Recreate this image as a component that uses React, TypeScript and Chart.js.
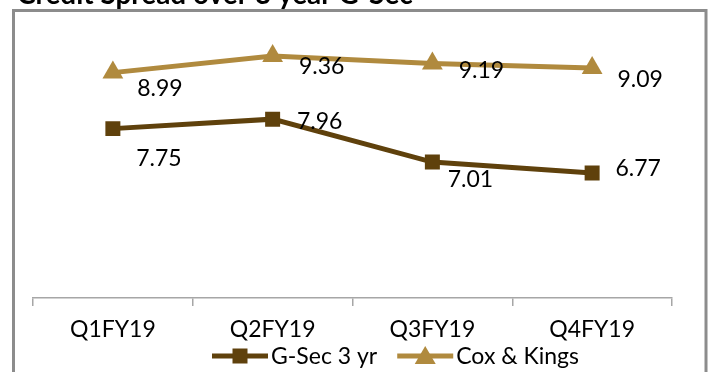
import React, { useEffect, useRef } from "react";
import { Chart, registerables } from "chart.js";

Chart.register(...registerables);

const categories = ["Q1FY19", "Q2FY19", "Q3FY19", "Q4FY19"];
const gsec3yr = [7.75, 7.96, 7.01, 6.77];
const coxKings = [8.99, 9.36, 9.19, 9.09];
const seriesNames = ["G-Sec 3 yr", "Cox & Kings"];
const titleText = "Credit Spread over 3 year G-Sec";

const GSEC_COLOR = "#5f410c";
const COX_COLOR = "#b08a3e";
const FONT = "Lato, 'DejaVu Sans', sans-serif";

// label placement offsets (px) relative to each point, per dataset
const labelOffsets = [
  [[46, 30], [47, 2], [38, 18], [46, -4]],
  [[47, 16], [49, 11], [49, 7], [48, 11]],
];

const overlayPlugin = {
  id: "overlay",
  afterDatasetsDraw(chart: any) {
    const ctx = chart.ctx;
    ctx.save();
    ctx.font = `23px ${FONT}`;
    ctx.fillStyle = "#000";
    ctx.textAlign = "center";
    ctx.textBaseline = "middle";
    chart.data.datasets.forEach((ds: any, di: number) => {
      const meta = chart.getDatasetMeta(di);
      meta.data.forEach((pt: any, i: number) => {
        const off = labelOffsets[di][i];
        ctx.fillText(ds.data[i].toFixed(2), pt.x + off[0], pt.y + off[1]);
      });
    });
    ctx.restore();
  },
  afterDraw(chart: any) {
    const ctx = chart.ctx;
    ctx.save();
    // border
    ctx.strokeStyle = "#8c8c8c";
    ctx.lineWidth = 3;
    ctx.strokeRect(13.5, 10.5, 692.5, 420);
    // title (cut off at top)
    ctx.fillStyle = "#000";
    ctx.font = `bold 23px ${FONT}`;
    const w = ctx.measureText(titleText).width;
    const size = (23 * 396) / w;
    ctx.font = `bold ${size}px ${FONT}`;
    ctx.textAlign = "left";
    ctx.textBaseline = "alphabetic";
    ctx.fillText(titleText, 17, 4);
    // legend
    ctx.font = `23px ${FONT}`;
    ctx.textBaseline = "middle";
    const ly = 356;
    let x = 212;
    const colors = [GSEC_COLOR, COX_COLOR];
    seriesNames.forEach((name, i) => {
      ctx.strokeStyle = colors[i];
      ctx.fillStyle = colors[i];
      ctx.lineWidth = 5;
      ctx.beginPath();
      ctx.moveTo(x, ly);
      ctx.lineTo(x + 56, ly);
      ctx.stroke();
      const cx = x + 28;
      ctx.beginPath();
      if (i === 0) {
        ctx.rect(cx - 7.5, ly - 7.5, 15, 15);
      } else {
        ctx.moveTo(cx, ly - 10);
        ctx.lineTo(cx + 10.5, ly + 8);
        ctx.lineTo(cx - 10.5, ly + 8);
        ctx.closePath();
      }
      ctx.fill();
      ctx.fillStyle = "#000";
      ctx.fillText(name, x + 59, ly + 1);
      x += 59 + ctx.measureText(name).width + 20;
    });
    ctx.restore();
  },
};

export default function App() {
  const ref = useRef<HTMLCanvasElement>(null);
  useEffect(() => {
    if (!ref.current) return;
    const chart = new Chart(ref.current, {
      type: "line",
      data: {
        labels: categories,
        datasets: [
          {
            label: seriesNames[0],
            data: gsec3yr,
            borderColor: GSEC_COLOR,
            backgroundColor: GSEC_COLOR,
            borderWidth: 5,
            pointStyle: "rect",
            pointRadius: 10.6,
            pointBorderWidth: 0,
            tension: 0,
          },
          {
            label: seriesNames[1],
            data: coxKings,
            borderColor: COX_COLOR,
            backgroundColor: COX_COLOR,
            borderWidth: 5,
            pointStyle: "triangle",
            pointRadius: 12,
            pointBorderWidth: 0,
            tension: 0,
          },
        ],
      },
      options: {
        responsive: false,
        animation: false,
        layout: { padding: { left: 33, right: 40, top: 27, bottom: 0 } },
        plugins: {
          legend: { display: false },
          tooltip: { enabled: false },
          title: { display: false },
        },
        scales: {
          x: {
            offset: true,
            grid: {
              display: true,
              offset: true,
              drawOnChartArea: false,
              drawTicks: true,
              tickLength: 8,
              color: "#a6a6a6",
              lineWidth: 1.5,
            },
            border: { display: true, color: "#a6a6a6", width: 1.5 },
            ticks: {
              color: "#000",
              font: { family: FONT, size: 23 },
              padding: 10,
              maxRotation: 0,
            },
            afterFit(scale: any) {
              scale.height = 74;
            },
          },
          y: { display: false, min: 4, max: 10 },
        },
      },
      plugins: [overlayPlugin],
    });
    return () => chart.destroy();
  }, []);
  return (
    <div style={{ position: "fixed", left: 0, top: 0, width: 712, height: 372, background: "#fff" }}>
      <canvas ref={ref} width={712} height={372} style={{ width: 712, height: 372, display: "block" }} />
    </div>
  );
}
